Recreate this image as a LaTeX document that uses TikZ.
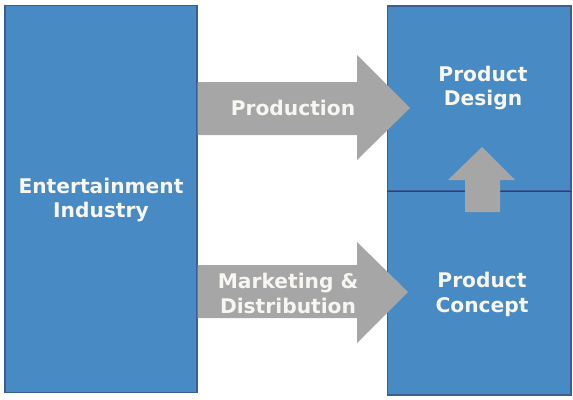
\documentclass[tikz,border=0pt]{standalone}
\usepackage{fontspec}
\setmainfont{DejaVu Sans}
\definecolor{boxblue}{RGB}{72,138,196}
\definecolor{boxedge}{RGB}{62,92,150}
\definecolor{divline}{RGB}{38,62,132}
\definecolor{arrgray}{RGB}{166,166,166}
\definecolor{txtwhite}{RGB}{248,246,240}
\tikzset{
  block/.style={rectangle, fill=boxblue, draw=boxedge, line width=0.6pt, inner sep=0pt},
  lbl/.style={align=center, text=txtwhite, font=\fontsize{11.5}{14.2}\selectfont\bfseries},
  fatarrow/.style={fill=arrgray}
}
\begin{document}
\begin{tikzpicture}[x=0.02cm, y=-0.02cm]
        \useasboundingbox (0,0) rectangle (573,399);

        \node[block, minimum width=3.84cm, minimum height=7.76cm] (ent) at (101,199) {};
        \node[block, minimum width=3.68cm, minimum height=3.7cm] (design) at (479,98.5) {};
        \node[block, minimum width=3.68cm, minimum height=4.08cm] (concept) at (479,293) {};
        \draw[divline, line width=1pt] (design.south west) -- (design.south east);

        \fill[fatarrow] (ent.east |- 0,82) -- (357,82) -- (357,55) -- (410,108) -- (357,160) -- (357,135) -- (ent.east |- 0,135) -- cycle;
        \fill[fatarrow] (ent.east |- 0,265) -- (357,265) -- (357,242) -- (408,292) -- (357,343) -- (357,318) -- (ent.east |- 0,318) -- cycle;
        \fill[fatarrow] (465,212) -- (465,180) -- (448,180) -- (482,147) -- (515,180) -- (500,180) -- (500,212) -- cycle;

        \node[lbl] (enttxt) at (101,200) {Entertainment\\Industry};
        \node[lbl] (destxt) at (483,88) {Product\\Design};
        \node[lbl] (contxt) at (482,294) {Product\\Concept};
        \node[lbl] (prod) at (293,108) {Production};
        \node[lbl] (mkt) at (288,293) {Marketing \&\\Distribution};
      \end{tikzpicture}
\end{document}
